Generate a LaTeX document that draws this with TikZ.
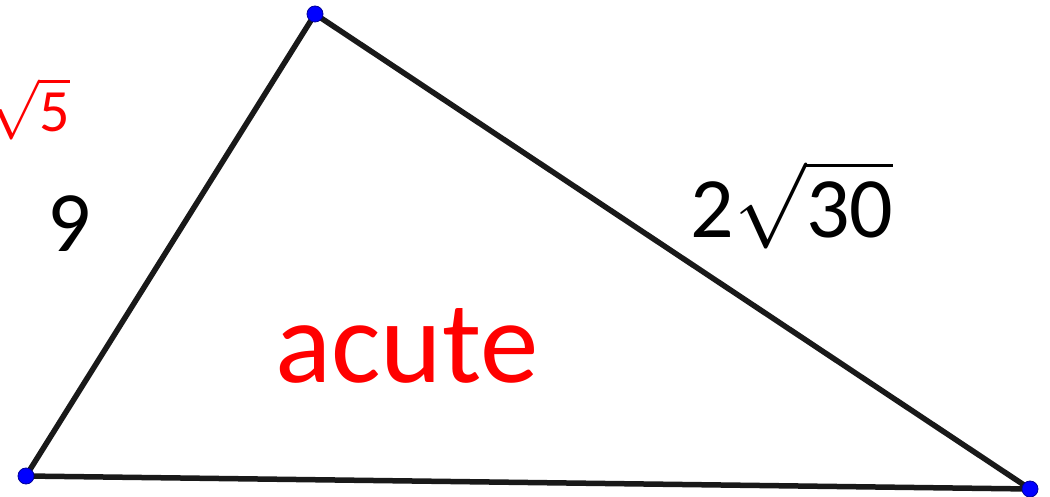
\documentclass[tikz,border=0pt]{standalone}
\usepackage{fontspec}
\setmainfont{Carlito}
\usepackage{xcolor}
\usetikzlibrary{positioning}

\begin{document}
\begin{tikzpicture}[
    x=1pt,y=-1pt,
    side/.style={draw=black!90,line width=5.5pt,line join=round},
    vertex/.style={circle,fill=blue,draw=blue!60!black,line width=0.8pt,inner sep=0pt,minimum size=16pt},
    lbl/.style={font=\fontsize{86}{90}\selectfont,inner sep=0pt},
    note/.style={text=red,inner sep=0pt}
]
\useasboundingbox (0,0) rectangle (1050,497);
% corners
\coordinate (A) at (315,14);
\coordinate (B) at (26,476);
\coordinate (C) at (1030,489);
\draw[side] (A) -- (B) -- (C) -- cycle;
\node[vertex] (a) at (A) {};
\node[vertex] (b) at (B) {};
\node[vertex] (c) at (C) {};
% side lengths
\node[lbl,anchor=base] (nine) at (69,252) {9};
\node[inner sep=0pt,anchor=base] (hyp) at (792,238) {\scalebox{8.6}{2$\sqrt{\mbox{30}}$}};
% handwriting
\node[note,anchor=base,font=\fontsize{117}{120}\selectfont] (acute) at (407,382) {acute};
\node[note,anchor=base east] (root) at (70,132) {\scalebox{6}{$\sqrt{\mbox{5}}$}};
\end{tikzpicture}
\end{document}
